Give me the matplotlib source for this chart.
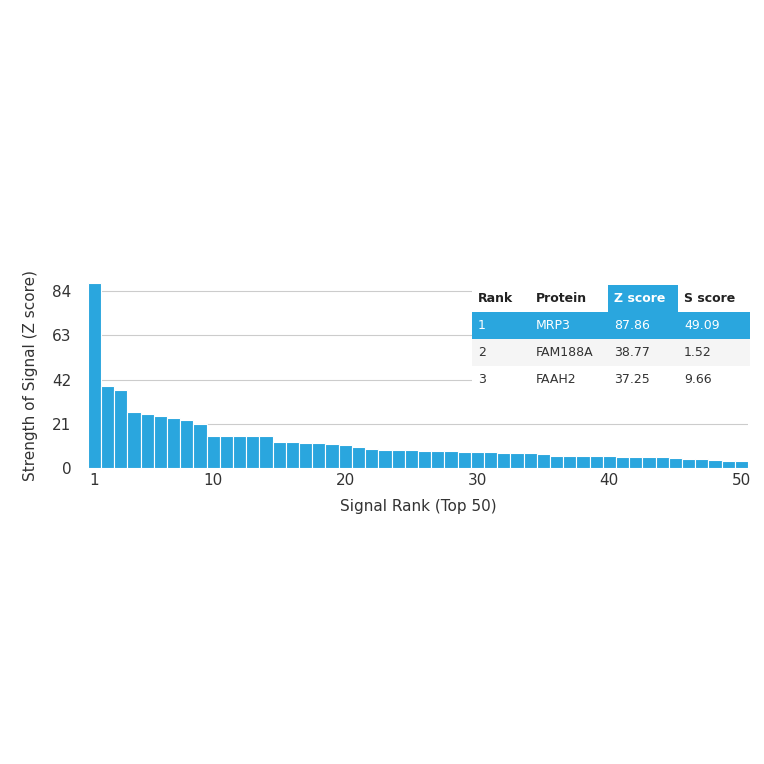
import matplotlib
matplotlib.use("Agg")
import matplotlib.pyplot as plt
from matplotlib.patches import Rectangle

ranks = list(range(1, 51))
zscores = [87.86, 38.77, 37.25, 26.6, 25.8, 24.8, 23.9, 23.0, 21.2, 15.3,
           15.3, 15.3, 15.3, 15.3, 12.4, 12.3, 12.2, 11.8, 11.5, 11.2,
           10.0, 9.2, 8.9, 8.7, 8.5, 8.4, 8.2, 8.0, 7.8, 7.6,
           7.5, 7.4, 7.3, 7.2, 6.7, 6.0, 5.9, 5.8, 5.7, 5.6,
           5.5, 5.4, 5.3, 5.2, 4.9, 4.6, 4.3, 4.0, 3.4, 3.3]
yticks = [0, 21, 42, 63, 84]
xticks = [1, 10, 20, 30, 40, 50]
table_header = ["Rank", "Protein", "Z score", "S score"]
table_rows = [["1", "MRP3", "87.86", "49.09"],
              ["2", "FAM188A", "38.77", "1.52"],
              ["3", "FAAH2", "37.25", "9.66"]]

blue = "#2aa6de"
fig = plt.figure(figsize=(7.64, 7.64), dpi=100)
ax = fig.add_axes([0.115, 0.387, 0.864, 0.243])
ax.bar(ranks, zscores, width=1.0, color=blue, edgecolor="white", linewidth=0.8, zorder=2)
ax.set_xlim(0.5, 50.5)
ax.set_ylim(0, 87.86)
ax.set_yticks(yticks)
ax.set_xticks(xticks)
ax.tick_params(length=0, labelsize=11, colors="#333333")
ax.tick_params(axis="y", pad=12)
for s in ax.spines.values():
    s.set_visible(False)
ax.grid(axis="y", color="#cccccc", linewidth=0.8, zorder=0)
ax.set_xlabel("Signal Rank (Top 50)", fontsize=11, color="#333333", labelpad=8)
ax.set_ylabel("Strength of Signal (Z score)", fontsize=11, color="#333333", labelpad=10)

# table in figure pixel coords
W = 764.0
def fx(px): return px / W
def fy(py): return 1 - py / W
col_x = [472, 530, 608, 678, 750]
row_y = [285, 312, 339, 366, 393]
fig.patches.append(Rectangle((fx(472), fy(393)), fx(750) - fx(472), fy(285) - fy(393),
                             transform=fig.transFigure, facecolor="white", edgecolor="none", zorder=3))
# header Z score cell
fig.patches.append(Rectangle((fx(608), fy(312)), fx(678) - fx(608), fy(285) - fy(312),
                             transform=fig.transFigure, facecolor=blue, edgecolor="none", zorder=3))
fig.patches.append(Rectangle((fx(472), fy(339)), fx(750) - fx(472), fy(312) - fy(339),
                             transform=fig.transFigure, facecolor=blue, edgecolor="none", zorder=3))
fig.patches.append(Rectangle((fx(472), fy(366)), fx(750) - fx(472), fy(339) - fy(366),
                             transform=fig.transFigure, facecolor="#f5f5f5", edgecolor="none", zorder=3))
for j, h in enumerate(table_header):
    fig.text(fx(col_x[j] + 6), fy((row_y[0] + row_y[1]) / 2), h, fontsize=9, fontweight="bold",
             color="white" if j == 2 else "#222222", va="center", zorder=4)
for i, row in enumerate(table_rows):
    for j, v in enumerate(row):
        fig.text(fx(col_x[j] + 6), fy((row_y[i + 1] + row_y[i + 2]) / 2), v, fontsize=9,
                 color="white" if i == 0 else "#333333", va="center", zorder=4)

fig.savefig("out.png", dpi=100, facecolor="white")
